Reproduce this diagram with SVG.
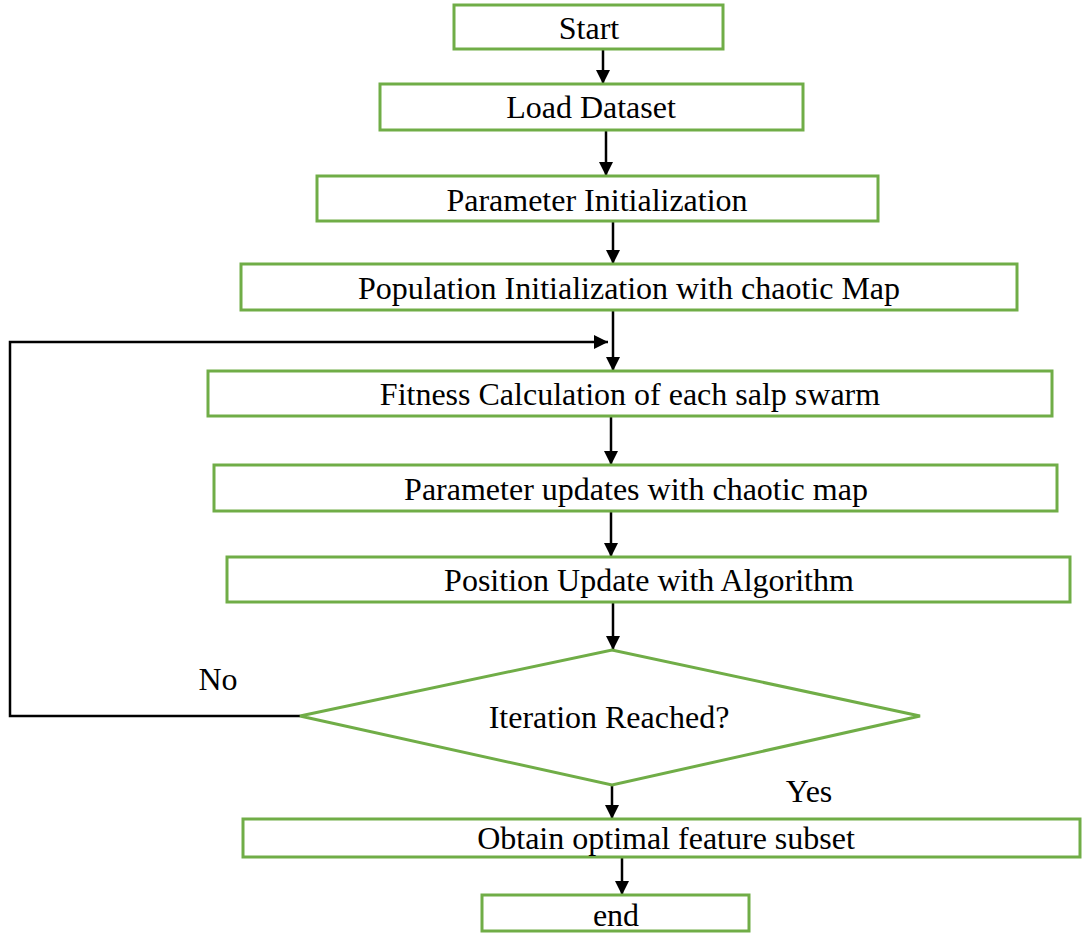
<svg xmlns="http://www.w3.org/2000/svg" width="1082" height="933" viewBox="0 0 1082 933">
<style>
.box{fill:#fff;stroke:#70AD47;stroke-width:3}
.t{font-family:"Liberation Serif","Times New Roman",serif;font-size:32px;fill:#000;text-anchor:middle}
.c{fill:none;stroke:#000;stroke-width:2.5}
</style>
<defs>
<marker id="ah" viewBox="0 0 14 14" refX="14" refY="7" markerWidth="14" markerHeight="14" markerUnits="userSpaceOnUse" orient="auto">
<path d="M0,0 L14,7 L0,14 Z" fill="#000"/>
</marker>
</defs>
<rect width="1082" height="933" fill="#fff"/>
<g id="connectors">
<line class="c" x1="603" y1="50" x2="603" y2="84" marker-end="url(#ah)"/>
<line class="c" x1="606" y1="131" x2="606" y2="176" marker-end="url(#ah)"/>
<line class="c" x1="613" y1="222" x2="613" y2="264" marker-end="url(#ah)"/>
<line class="c" x1="613" y1="311" x2="613" y2="371" marker-end="url(#ah)"/>
<line class="c" x1="611" y1="417" x2="611" y2="465" marker-end="url(#ah)"/>
<line class="c" x1="611" y1="512" x2="611" y2="557" marker-end="url(#ah)"/>
<line class="c" x1="613" y1="603" x2="613" y2="650" marker-end="url(#ah)"/>
<line class="c" x1="612" y1="786" x2="612" y2="819" marker-end="url(#ah)"/>
<line class="c" x1="622" y1="858" x2="622" y2="895" marker-end="url(#ah)"/>
<polyline class="c" points="300,716 10,716 10,342 608,342" marker-end="url(#ah)"/>
<text class="t" x="218" y="690">No</text>
<text class="t" x="809" y="802">Yes</text>
</g>
<g id="start"><rect class="box" x="454" y="5" width="269" height="44"/><text class="t" x="589" y="39">Start</text></g>
<g id="load"><rect class="box" x="380" y="84" width="423" height="46"/><text class="t" x="591" y="118">Load Dataset</text></g>
<g id="paraminit"><rect class="box" x="317" y="176" width="561" height="45"/><text class="t" x="597" y="211">Parameter Initialization</text></g>
<g id="popinit"><rect class="box" x="241" y="264" width="776" height="46"/><text class="t" x="629" y="299">Population Initialization with chaotic Map</text></g>
<g id="fitness"><rect class="box" x="208" y="371" width="844" height="45"/><text class="t" x="630" y="405">Fitness Calculation of each salp swarm</text></g>
<g id="paramupd"><rect class="box" x="214" y="465" width="843" height="46"/><text class="t" x="636" y="500">Parameter updates with chaotic map</text></g>
<g id="posupd"><rect class="box" x="227" y="557" width="843" height="45"/><text class="t" x="649" y="591">Position Update with Algorithm</text></g>
<g id="decision"><polygon class="box" points="300,716 612,650 920,716 612,785"/><text class="t" x="609" y="728">Iteration Reached?</text></g>
<g id="obtain"><rect class="box" x="243" y="819" width="837" height="38"/><text class="t" x="666" y="849">Obtain optimal feature subset</text></g>
<g id="end"><rect class="box" x="482" y="895" width="267" height="36"/><text class="t" x="616" y="926">end</text></g>
</svg>
